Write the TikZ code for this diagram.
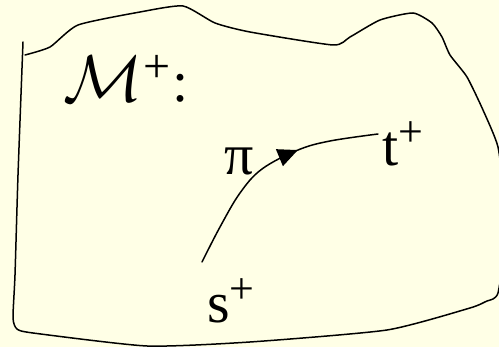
\documentclass[tikz,border=0pt]{standalone}
\usepackage{fontspec}
\setmainfont{Liberation Serif}
\usetikzlibrary{arrows.meta,decorations.markings}
\definecolor{bgyellow}{RGB}{255,255,230}
\tikzset{
  outline/.style={line width=1.5pt, line join=round, line cap=round},
  pathline/.style={line width=1.5pt, line cap=round},
  lbl/.style={inner sep=0pt, anchor=base west, font=\fontsize{58}{60}\selectfont},
}
\newcommand{\supplus}[1][44]{\raisebox{19pt}{\fontsize{#1}{#1}\selectfont +}}
\begin{document}
\begin{tikzpicture}[x=1pt,y=-1pt]
\fill[bgyellow] (0,0) rectangle (499,347);
\useasboundingbox (0,0) rectangle (499,347);
% hand-drawn region outline
\draw[outline] plot[smooth, tension=0.35] coordinates {
 (25,55) (50,47) (78,25) (140,12) (183,6) (215,23) (250,32) (333,45) (350,37)
 (380,20) (413,13) (432,23) (442,37) (450,55) (467,77) (483,110) (498,147)
 (504,200) (503,260) (498,293) (493,299) (487,301) (470,308) (387,330)
 (250,342) (147,346) (33,333) (17,329) (13,318) (15,275) (18,175) (23,42)};
% path pi
\draw[pathline, postaction={decorate}, decoration={markings,
  mark=at position 0.65 with {\arrow{Triangle[length=20pt,width=18pt]}}}]
  plot[smooth, tension=0.6] coordinates {
 (202,262) (220,227) (240,193) (262,169) (298,150) (330,141) (378,134)};
% labels
\node[lbl] (M) at (63,102) {{\fontsize{10}{12}\selectfont\scalebox{6.6}{$\mathcal{M}$}}\hspace{1pt}\supplus[48]\hspace{2pt}:};
\node[lbl] (pi) at (224,175) {π};
\node[lbl] (t) at (382,166) {t\supplus};
\node[lbl] (s) at (207,323) {s\supplus};
\end{tikzpicture}
\end{document}
